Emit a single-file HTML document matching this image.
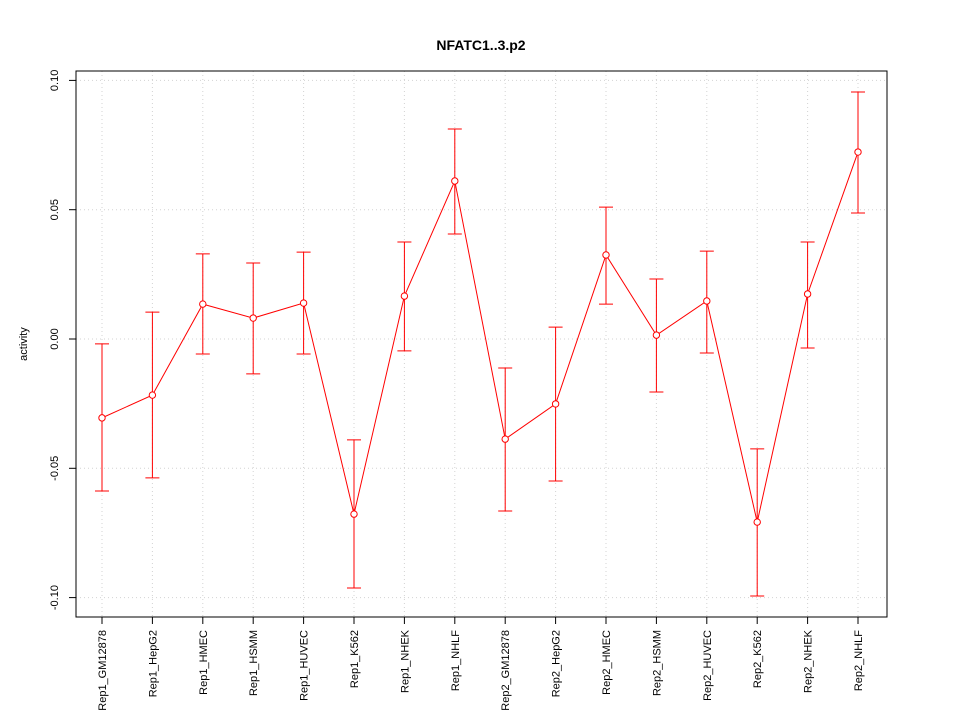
<!DOCTYPE html>
<html><head><meta charset="utf-8">
<style>
body{margin:0;background:#fff;}
svg{display:block;font-family:"Liberation Sans",sans-serif;}
</style></head>
<body>
<svg id="chart" width="960" height="720" xmlns="http://www.w3.org/2000/svg">
<rect width="960" height="720" fill="#fff"/>
<text x="481" y="50" text-anchor="middle" font-size="14" font-weight="bold">NFATC1..3.p2</text>
<g id="grid"></g>
<g id="axes"></g>
<g id="marks"></g>
<rect x="76" y="71" width="811" height="546" fill="none" stroke="#000"/>
<text transform="translate(27,344) rotate(-90)" text-anchor="middle" font-size="11">activity</text>
</svg>
<script>
const categories=["Rep1_GM12878","Rep1_HepG2","Rep1_HMEC","Rep1_HSMM","Rep1_HUVEC","Rep1_K562","Rep1_NHEK","Rep1_NHLF","Rep2_GM12878","Rep2_HepG2","Rep2_HMEC","Rep2_HSMM","Rep2_HUVEC","Rep2_K562","Rep2_NHEK","Rep2_NHLF"];
const values=[-0.0305,-0.0217,0.0135,0.0081,0.0139,-0.0677,0.0166,0.0611,-0.0387,-0.0251,0.0325,0.0015,0.0147,-0.0708,0.0174,0.0723];
const upper=[-0.0019,0.0104,0.0329,0.0294,0.0336,-0.039,0.0375,0.0812,-0.0112,0.0046,0.051,0.0232,0.034,-0.0425,0.0375,0.0955];
const lower=[-0.0588,-0.0537,-0.0058,-0.0135,-0.0058,-0.0963,-0.0046,0.0406,-0.0665,-0.0549,0.0135,-0.0205,-0.0054,-0.0994,-0.0035,0.0487];
const yTicks=[-0.10,-0.05,0.00,0.05,0.10];
const yTickLabels=["-0.10","-0.05","0.00","0.05","0.10"];

const NS="http://www.w3.org/2000/svg";
const x=i=>102+i*(858-102)/(categories.length-1);
const y=v=>339-v*2586;
function mk(parent,tag,attrs){const e=document.createElementNS(NS,tag);for(const k in attrs)e.setAttribute(k,attrs[k]);parent.appendChild(e);return e;}
const grid=document.getElementById('grid'),axes=document.getElementById('axes'),marks=document.getElementById('marks');

yTicks.forEach((t,i)=>{
  const g=mk(grid,'line',{x1:76,x2:887,y1:y(t),y2:y(t),stroke:'#d3d3d3','stroke-dasharray':'1,3'});
  
  
  const tk=mk(axes,'line',{x1:69,x2:76,y1:y(t),y2:y(t),stroke:'#000'});
  
  
  const tl=mk(axes,'text',{transform:`translate(58,${y(t)}) rotate(-90)`,'text-anchor':'middle','font-size':'11'});
  tl.textContent=yTickLabels[i];
  
  
});
categories.forEach((c,i)=>{
  const g=mk(grid,'line',{x1:x(i),x2:x(i),y1:71,y2:617,stroke:'#d3d3d3','stroke-dasharray':'1,3'});
  
  
  const tk=mk(axes,'line',{x1:x(i),x2:x(i),y1:617,y2:624,stroke:'#000'});
  
  
  const tl=mk(axes,'text',{transform:`translate(${x(i)+4},630) rotate(-90)`,'text-anchor':'end','font-size':'11'});
  tl.textContent=c;
  
  
});
const pts=values.map((v,i)=>x(i)+','+y(v)).join(' ');
const line=mk(marks,'polyline',{points:pts,fill:'none',stroke:'#ff0000'});


values.forEach((v,i)=>{
  const xi=x(i);
  const eb=mk(marks,'path',{d:`M${xi},${y(upper[i])}V${y(lower[i])}M${xi-7},${y(upper[i])}H${xi+7}M${xi-7},${y(lower[i])}H${xi+7}`,stroke:'#ff0000',fill:'none'});
  
  
  const p=mk(marks,'circle',{cx:xi,cy:y(v),r:3.2,fill:'#fff',stroke:'#ff0000'});
  
  
});
</script>
</body></html>
